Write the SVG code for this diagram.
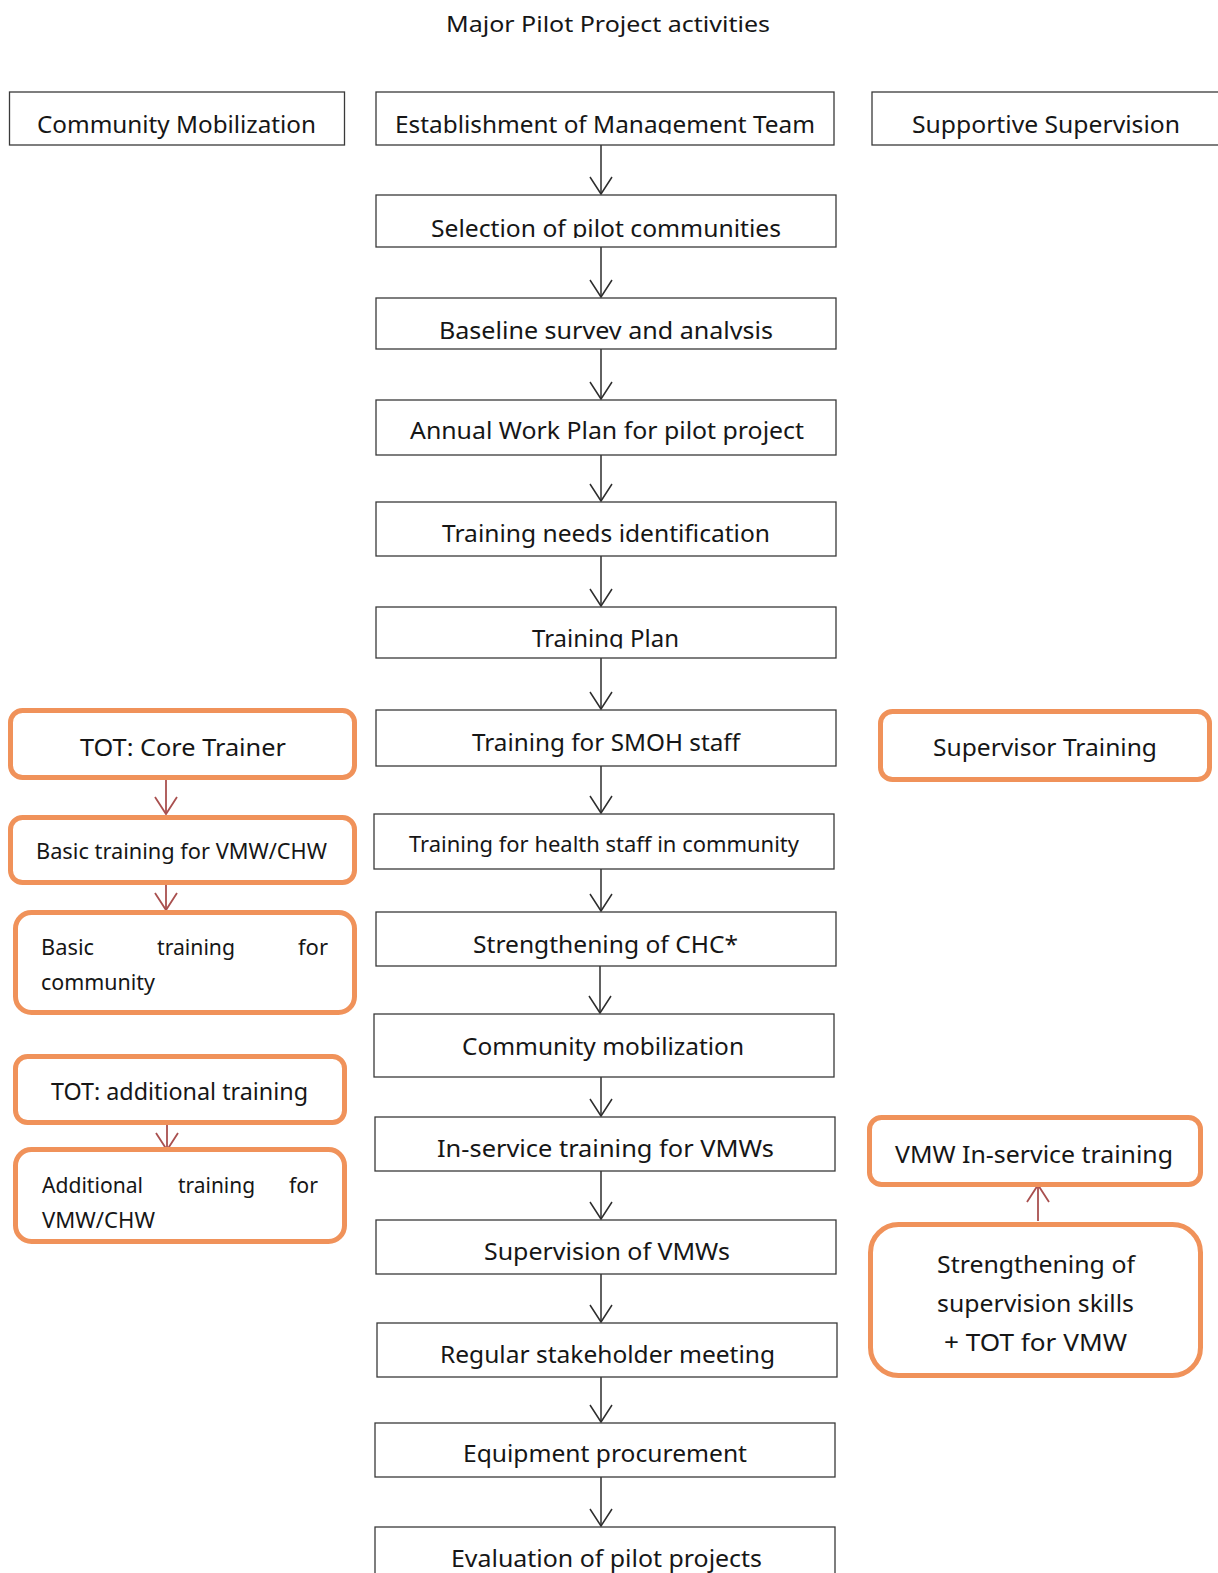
<svg xmlns="http://www.w3.org/2000/svg" width="1218" height="1573" viewBox="0 0 1218 1573">
<style>
text{font-family:"Noto Sans","DejaVu Sans",sans-serif;fill:#161616;font-size:24px}
.s{font-size:22px}
.t{font-size:21px}
.box{fill:#fff;stroke:#3a3a3a;stroke-width:1.3}
.obox{fill:#fff;stroke:#F0925A;stroke-width:5}
.c{fill:none;stroke:#2e2e2e;stroke-width:1.5}
.r{fill:none;stroke:#A9504F;stroke-width:1.8}
</style>
<defs>
<marker id="ah" markerUnits="userSpaceOnUse" viewBox="-20 -13 22 26" refX="0" refY="0" markerWidth="22" markerHeight="26" orient="auto">
<path d="M-17,-11 L0,0 L-17,11" fill="none" stroke="#2e2e2e" stroke-width="1.5"/>
</marker>
<marker id="rh" markerUnits="userSpaceOnUse" viewBox="-20 -13 22 26" refX="0" refY="0" markerWidth="22" markerHeight="26" orient="auto">
<path d="M-17,-11 L0,0 L-17,11" fill="none" stroke="#A9504F" stroke-width="1.8"/>
</marker>
<clipPath id="cE"><rect x="370" y="90" width="470" height="44"/></clipPath>
<clipPath id="cS"><rect x="370" y="195" width="470" height="43"/></clipPath>
<clipPath id="cB"><rect x="370" y="298" width="470" height="41.5"/></clipPath>
<clipPath id="cT"><rect x="370" y="607" width="470" height="41.5"/></clipPath>
</defs>
<rect width="1218" height="1573" fill="#fff"/>
<text id="title" x="446" y="32" class="t" textLength="324" lengthAdjust="spacingAndGlyphs">Major Pilot Project activities</text>

<g id="connectors">
<path class="c" d="M601,145 V194" marker-end="url(#ah)"/>
<path class="c" d="M601,247 V297" marker-end="url(#ah)"/>
<path class="c" d="M601,349 V399" marker-end="url(#ah)"/>
<path class="c" d="M601,455 V501" marker-end="url(#ah)"/>
<path class="c" d="M601,556 V606" marker-end="url(#ah)"/>
<path class="c" d="M601,658 V709" marker-end="url(#ah)"/>
<path class="c" d="M601,766 V813" marker-end="url(#ah)"/>
<path class="c" d="M601,869 V911" marker-end="url(#ah)"/>
<path class="c" d="M600,966 V1013" marker-end="url(#ah)"/>
<path class="c" d="M601,1065 V1116" marker-end="url(#ah)"/>
<path class="c" d="M601,1171 V1219" marker-end="url(#ah)"/>
<path class="c" d="M601,1274 V1322" marker-end="url(#ah)"/>
<path class="c" d="M601,1377 V1422" marker-end="url(#ah)"/>
<path class="c" d="M601,1477 V1526" marker-end="url(#ah)"/>
<path class="r" d="M166,780 V814" marker-end="url(#rh)"/>
<path class="r" d="M166,885 V910" marker-end="url(#rh)"/>
<path class="r" d="M167,1125 V1150" marker-end="url(#rh)"/>
<path class="r" d="M1038,1221 V1185" marker-end="url(#rh)"/>
</g>

<g id="n-community-mobilization-header">
<rect class="box" x="9.5" y="92" width="335" height="53"/>
<text x="37" y="133" textLength="279" lengthAdjust="spacingAndGlyphs">Community Mobilization</text>
</g>
<g id="n-establishment">
<rect class="box" x="376" y="92" width="458" height="53"/>
<text x="395" y="133" textLength="420" lengthAdjust="spacingAndGlyphs" clip-path="url(#cE)">Establishment of Management Team</text>
</g>
<g id="n-supportive-supervision">
<rect class="box" x="872" y="92" width="360" height="53"/>
<text x="912" y="133" textLength="268" lengthAdjust="spacingAndGlyphs">Supportive Supervision</text>
</g>

<g id="n-selection">
<rect class="box" x="376" y="195" width="460" height="52"/>
<text x="431" y="237" textLength="350" lengthAdjust="spacingAndGlyphs" clip-path="url(#cS)">Selection of pilot communities</text>
</g>
<g id="n-baseline">
<rect class="box" x="376" y="298" width="460" height="51"/>
<text x="439" y="339" textLength="334" lengthAdjust="spacingAndGlyphs" clip-path="url(#cB)">Baseline survey and analysis</text>
</g>
<g id="n-annual">
<rect class="box" x="376" y="400" width="460" height="55"/>
<text x="410" y="439" textLength="394" lengthAdjust="spacingAndGlyphs">Annual Work Plan for pilot project</text>
</g>
<g id="n-needs">
<rect class="box" x="376" y="502" width="460" height="54"/>
<text x="442" y="542" textLength="328" lengthAdjust="spacingAndGlyphs">Training needs identification</text>
</g>
<g id="n-training-plan">
<rect class="box" x="376" y="607" width="460" height="51"/>
<text x="532" y="647" textLength="147" lengthAdjust="spacingAndGlyphs" clip-path="url(#cT)">Training Plan</text>
</g>
<g id="n-smoh">
<rect class="box" x="376" y="710" width="460" height="56"/>
<text x="472" y="751" textLength="268" lengthAdjust="spacingAndGlyphs">Training for SMOH staff</text>
</g>
<g id="n-health-staff">
<rect class="box" x="374" y="814" width="460" height="55"/>
<text x="409" y="852" class="s" textLength="390" lengthAdjust="spacingAndGlyphs">Training for health staff in community</text>
</g>
<g id="n-chc">
<rect class="box" x="376" y="912" width="460" height="54"/>
<text x="473" y="953" textLength="265" lengthAdjust="spacingAndGlyphs">Strengthening of CHC*</text>
</g>
<g id="n-community-mobilization">
<rect class="box" x="374" y="1014" width="460" height="63"/>
<text x="462" y="1055" textLength="282" lengthAdjust="spacingAndGlyphs">Community mobilization</text>
</g>
<g id="n-inservice">
<rect class="box" x="375" y="1117" width="460" height="54"/>
<text x="437" y="1157" textLength="337" lengthAdjust="spacingAndGlyphs">In-service training for VMWs</text>
</g>
<g id="n-supervision">
<rect class="box" x="376" y="1220" width="460" height="54"/>
<text x="484" y="1260" textLength="246" lengthAdjust="spacingAndGlyphs">Supervision of VMWs</text>
</g>
<g id="n-stakeholder">
<rect class="box" x="377" y="1323" width="460" height="54"/>
<text x="440" y="1363" textLength="335" lengthAdjust="spacingAndGlyphs">Regular stakeholder meeting</text>
</g>
<g id="n-equipment">
<rect class="box" x="375" y="1423" width="460" height="54"/>
<text x="463" y="1462" textLength="284" lengthAdjust="spacingAndGlyphs">Equipment procurement</text>
</g>
<g id="n-evaluation">
<rect class="box" x="375" y="1527" width="460" height="60"/>
<text x="451" y="1567" textLength="311" lengthAdjust="spacingAndGlyphs">Evaluation of pilot projects</text>
</g>

<g id="n-tot-core">
<rect class="obox" x="10.5" y="710.5" width="344" height="67" rx="12"/>
<text x="80" y="756" textLength="206" lengthAdjust="spacingAndGlyphs">TOT: Core Trainer</text>
</g>
<g id="n-basic-vmw">
<rect class="obox" x="10.5" y="817.5" width="344" height="65" rx="12"/>
<text x="36" y="859" class="t" textLength="291" lengthAdjust="spacingAndGlyphs">Basic training for VMW/CHW</text>
</g>
<g id="n-basic-community">
<rect class="obox" x="15.5" y="912.5" width="339" height="100" rx="16"/>
<text x="41" y="955" class="s" textLength="53" lengthAdjust="spacingAndGlyphs">Basic</text>
<text x="157" y="955" class="s" textLength="78" lengthAdjust="spacingAndGlyphs">training</text>
<text x="298" y="955" class="s" textLength="30" lengthAdjust="spacingAndGlyphs">for</text>
<text x="41" y="990" class="s" textLength="114" lengthAdjust="spacingAndGlyphs">community</text>
</g>
<g id="n-tot-additional">
<rect class="obox" x="15.5" y="1056.5" width="329" height="66" rx="12"/>
<text x="51" y="1100" textLength="257" lengthAdjust="spacingAndGlyphs">TOT: additional training</text>
</g>
<g id="n-additional">
<rect class="obox" x="15.5" y="1149.5" width="329" height="92" rx="16"/>
<text x="42" y="1193" class="s" textLength="101" lengthAdjust="spacingAndGlyphs">Additional</text>
<text x="178" y="1193" class="s" textLength="77" lengthAdjust="spacingAndGlyphs">training</text>
<text x="289" y="1193" class="s" textLength="29" lengthAdjust="spacingAndGlyphs">for</text>
<text x="42" y="1228" class="s" textLength="113" lengthAdjust="spacingAndGlyphs">VMW/CHW</text>
</g>

<g id="n-supervisor-training">
<rect class="obox" x="880.5" y="711.5" width="329" height="68" rx="12"/>
<text x="933" y="756" textLength="224" lengthAdjust="spacingAndGlyphs">Supervisor Training</text>
</g>
<g id="n-vmw-inservice">
<rect class="obox" x="869.5" y="1117.5" width="331" height="67" rx="12"/>
<text x="895" y="1163" textLength="278" lengthAdjust="spacingAndGlyphs">VMW In-service training</text>
</g>
<g id="n-strengthening-supervision">
<rect class="obox" x="870.5" y="1224.5" width="330" height="151" rx="28"/>
<text x="937" y="1273" textLength="198" lengthAdjust="spacingAndGlyphs">Strengthening of</text>
<text x="937" y="1312" textLength="197" lengthAdjust="spacingAndGlyphs">supervision skills</text>
<text x="944" y="1351" textLength="183" lengthAdjust="spacingAndGlyphs">+ TOT for VMW</text>
</g>
</svg>
